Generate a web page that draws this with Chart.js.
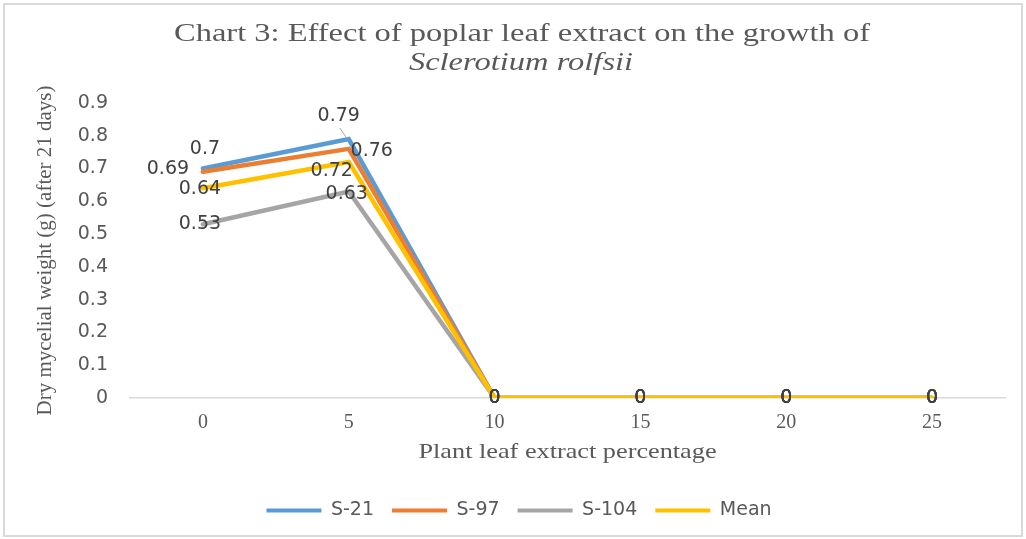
<!DOCTYPE html>
<html><head><meta charset="utf-8">
<script src="https://cdn.jsdelivr.net/npm/chart.js@4"></script>
<style>
html,body{margin:0;padding:0;background:#fff;}
#wrap{position:relative;width:1026px;height:539px;overflow:hidden;}
canvas{position:absolute;left:0;top:0;}
#frame{position:absolute;left:3px;top:3px;width:1016px;height:530px;border:2px solid #d9d9d9;pointer-events:none;}
</style></head>
<body><div id="wrap"><canvas id="c" width="1026" height="539"></canvas><div id="frame"></div></div>
<script>
// ---- data ----
const categories = ['0', '5', '10', '15', '20', '25'];
const seriesNames = ['S-21', 'S-97', 'S-104', 'Mean'];
const s21 = [0.70, 0.79, 0, 0, 0, 0];
const s97 = [0.69, 0.76, 0, 0, 0, 0];
const s104 = [0.53, 0.63, 0, 0, 0, 0];
const mean = [0.64, 0.72, 0, 0, 0, 0];
const yTickLabels = ['0', '0.1', '0.2', '0.3', '0.4', '0.5', '0.6', '0.7', '0.8', '0.9'];
const titleLine1 = 'Chart 3: Effect of poplar leaf extract on the growth of';
const titleLine2 = 'Sclerotium rolfsii';
const xTitle = 'Plant leaf extract percentage';
const yTitle = 'Dry mycelial weight (g) (after 21 days)';

// ---- styles ----
const colors = ['#5B9BD5', '#ED7D31', '#A5A5A5', '#FFC000'];
const drawOrder = [4, 3, 2, 1];
// label offsets (pixels, relative to each point)
const labelOffsets = [
  [[2, -19], [-10, -23], [0, 0], [0, 0], [0, 0], [0, 0]],
  [[-35, -3], [23, 2], [0, 0], [0, 0], [0, 0], [0, 0]],
  [[-3, 0], [-2, 3], [0, 0], [0, 0], [0, 0], [0, 0]],
  [[-3, 1], [-17, 9], [0, 0], [0, 0], [0, 0], [0, 0]]
];

const allSeries = [s21, s97, s104, mean];
const SANS = "'DejaVu Sans', sans-serif";
const SERIF = "'Liberation Serif', 'Times New Roman', serif";
const GREY = '#595959';
const STRETCH = 1.25;

function stretchedText(ctx, txt, cx, cy, font) {
  ctx.save();
  ctx.font = font;
  ctx.fillStyle = GREY;
  ctx.textAlign = 'center';
  ctx.textBaseline = 'middle';
  ctx.translate(cx, cy);
  ctx.scale(STRETCH, 1);
  ctx.fillText(txt, 0, 0);
  ctx.restore();
}

const textPlugin = {
  id: 'texts',
  afterDraw(chart) {
    const ctx = chart.ctx;
    const a = chart.chartArea;
    stretchedText(ctx, titleLine1, 522, 34, '26px ' + SERIF);
    stretchedText(ctx, titleLine2, 521, 63, 'italic 26px ' + SERIF);
    stretchedText(ctx, xTitle, (a.left + a.right) / 2, 452, '21px ' + SERIF);
  }
};

const labelPlugin = {
  id: 'pointLabels',
  afterDatasetsDraw(chart) {
    const ctx = chart.ctx;
    ctx.save();
    ctx.font = '19px ' + SANS;
    ctx.textAlign = 'center';
    ctx.textBaseline = 'middle';
    chart.data.datasets.forEach((ds, i) => {
      const meta = chart.getDatasetMeta(i);
      meta.data.forEach((pt, j) => {
        const off = labelOffsets[i][j];
        const txt = String(ds.data[j]);
        if (i === 0 && j === 1) {
          ctx.strokeStyle = '#a6a6a6';
          ctx.lineWidth = 1;
          ctx.beginPath();
          ctx.moveTo(pt.x + off[0] + 1, pt.y + off[1] + 12);
          ctx.lineTo(pt.x - 2, pt.y - 1);
          ctx.stroke();
        }
        ctx.fillStyle = '#404040';
        ctx.fillText(txt, pt.x + off[0], pt.y + off[1]);
      });
    });
    ctx.restore();
  }
};

new Chart(document.getElementById('c'), {
  type: 'line',
  data: {
    labels: categories,
    datasets: allSeries.map((d, i) => ({
      label: seriesNames[i],
      data: d,
      borderColor: colors[i],
      backgroundColor: colors[i],
      borderWidth: 4.5,
      pointRadius: 0,
      tension: 0,
      fill: false,
      order: drawOrder[i],
      borderCapStyle: 'round',
      borderJoinStyle: 'miter'
    }))
  },
  plugins: [labelPlugin, textPlugin],
  options: {
    responsive: false,
    animation: false,
    devicePixelRatio: 1,
    layout: { padding: { left: 33, right: 21, top: 103, bottom: 9 } },
    plugins: {
      title: { display: false },
      subtitle: { display: false },
      legend: {
        position: 'bottom',
        labels: {
          color: GREY,
          font: { family: SANS, size: 19 },
          boxWidth: 55,
          boxHeight: 4,
          padding: 18,
          generateLabels(chart) {
            return chart.data.datasets.map((ds, i) => ({
              text: ds.label,
              fillStyle: ds.borderColor,
              strokeStyle: ds.borderColor,
              lineWidth: 0,
              fontColor: GREY,
              hidden: false,
              datasetIndex: i
            }));
          }
        }
      },
      tooltip: { enabled: false }
    },
    scales: {
      x: {
        offset: true,
        grid: { display: false, drawTicks: false, tickLength: 0 },
        border: { display: true, color: '#d9d9d9', width: 1.5 },
        ticks: { color: GREY, font: { family: SERIF, size: 20 }, padding: 13 },
        title: { display: false },
        afterFit(scale) { scale.height = 85; }
      },
      y: {
        min: 0,
        max: 0.9,
        grid: { display: false, drawTicks: false, tickLength: 0 },
        border: { display: false },
        ticks: {
          stepSize: 0.1,
          color: GREY,
          font: { family: SANS, size: 19 },
          padding: 22,
          callback: (v, i) => yTickLabels[i]
        },
        title: {
          display: true,
          text: yTitle,
          color: GREY,
          font: { family: SERIF, size: 21 },
          padding: { top: 0, bottom: 0 }
        },
        afterFit(scale) { scale.width = 97; }
      }
    }
  }
});
</script>
</body></html>
